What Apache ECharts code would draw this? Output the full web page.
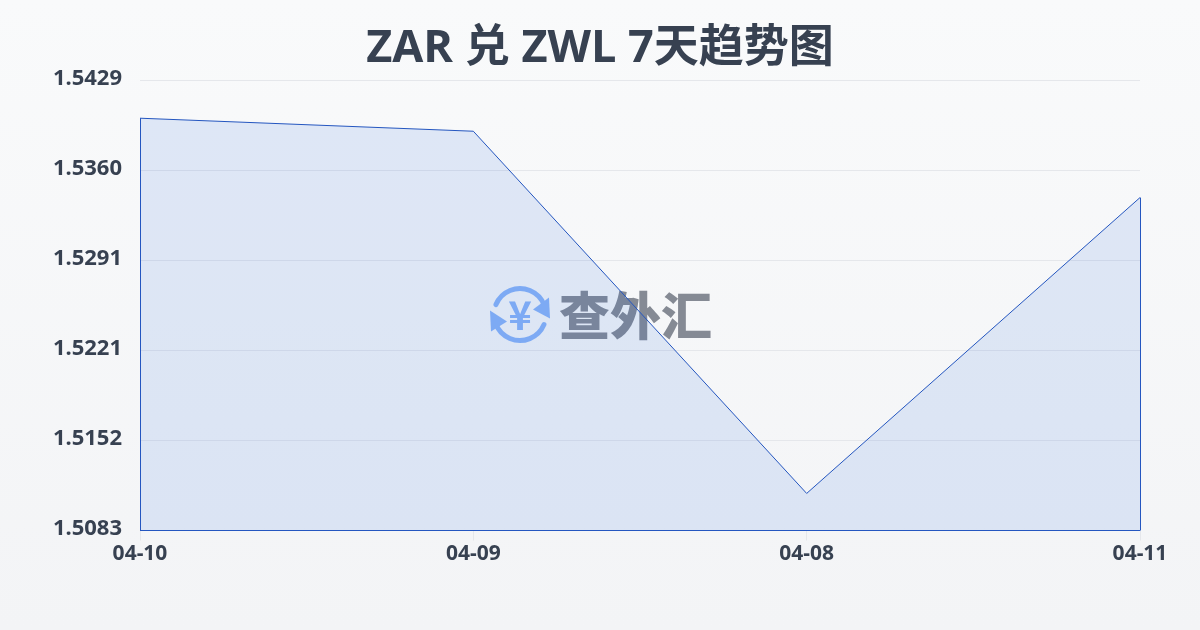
<!DOCTYPE html>
<html><head><meta charset="utf-8">
<style>html,body{margin:0;padding:0;width:1200px;height:630px;overflow:hidden}#c{width:1200px;height:630px}</style>
<script src="https://cdn.jsdelivr.net/npm/echarts@6/dist/echarts.min.js"></script>
</head><body><div id="c"></div>
<script>
const titleText = 'ZAR 兑 ZWL 7天趋势图';
const categories = ['04-10','04-09','04-08','04-11'];
const rates = [1.5400,1.5390,1.51115,1.5339];
const yTicks = [1.5083,1.51522,1.52214,1.52906,1.53598,1.5429];
const yMin = 1.5083, yMax = 1.5429;
const brandText = '查外汇';
const font = '"Noto Sans","Noto Sans CJK SC",sans-serif';
const lineColor = '#2456c0';
const chart = echarts.init(document.getElementById('c'));
const edge = (a,b)=>[{coord:a},{coord:b}];
const last = categories.length-1;
chart.setOption({
  animation:false,
  backgroundColor:new echarts.graphic.LinearGradient(0,0,0,1,[{offset:0,color:'#f9fafb'},{offset:1,color:'#f3f4f6'}]),
  title:{text:titleText,left:'center',top:15,textStyle:{fontFamily:'"Open Sans","Noto Sans CJK SC",sans-serif',fontSize:45,fontWeight:'bold',color:'#374151',lineHeight:58}},
  grid:{left:140,right:60,top:80.5,height:450},
  xAxis:{type:'category',boundaryGap:false,data:categories,
    axisLine:{show:false},
    axisTick:{show:true,length:10,lineStyle:{color:'#e5e7eb'}},
    axisLabel:{margin:13,color:'#374151',fontFamily:font,fontSize:21,fontWeight:'bold',interval:0,hideOverlap:false},
    splitLine:{show:false}},
  yAxis:{type:'value',min:yMin,max:yMax,
    axisLine:{show:false},axisTick:{show:false,customValues:yTicks},
    axisLabel:{customValues:yTicks,margin:18,formatter:v=>'{t|'+v.toFixed(4)+'}',
      rich:{t:{color:'#374151',fontFamily:font,fontSize:22,fontWeight:'bold',padding:[0,0,4,0]}}},
    splitLine:{show:true,lineStyle:{color:'#e5e7eb',width:1}}},
  series:[{type:'line',data:rates,symbol:'none',smooth:false,
    lineStyle:{color:lineColor,width:1},
    areaStyle:{color:'rgba(33,100,225,0.17)'},
    markLine:{silent:true,symbol:'none',label:{show:false},lineStyle:{color:lineColor,width:1,type:'solid'},
      data:[edge([categories[0],yMin],[categories[0],rates[0]]),
            edge([categories[last],yMin],[categories[last],rates[last]]),
            edge([categories[0],yMin],[categories[last],yMin])]}}],
  graphic:[
    {type:'group',left:490,top:286,z:1,silent:true,children:[
      {type:'arc',shape:{cx:30,cy:29,r:26,startAngle:-2.75,endAngle:-0.35},style:{stroke:'#8ab4f8',lineWidth:5,lineCap:'round',fill:null}},
      {type:'arc',shape:{cx:30,cy:29,r:26,startAngle:0.4,endAngle:2.8},style:{stroke:'#8ab4f8',lineWidth:5,lineCap:'round',fill:null}},
      {type:'polygon',shape:{points:[[59,12],[60,33],[43,24]]},style:{fill:'#8ab4f8'}},
      {type:'polygon',shape:{points:[[0,25],[17,36],[1,46]]},style:{fill:'#8ab4f8'}},
      {type:'text',style:{text:'¥',x:30,y:29,align:'center',verticalAlign:'middle',fontFamily:'"Noto Sans CJK SC"',fontWeight:'bold',fontSize:40,fill:'#8ab4f8'}}
    ]},
    {type:'text',left:559,top:290,z:1,silent:true,style:{text:brandText,fontFamily:'"Noto Sans CJK SC"',fontWeight:900,fontSize:51,fill:'#858a94'}}
  ]
});
</script></body></html>
